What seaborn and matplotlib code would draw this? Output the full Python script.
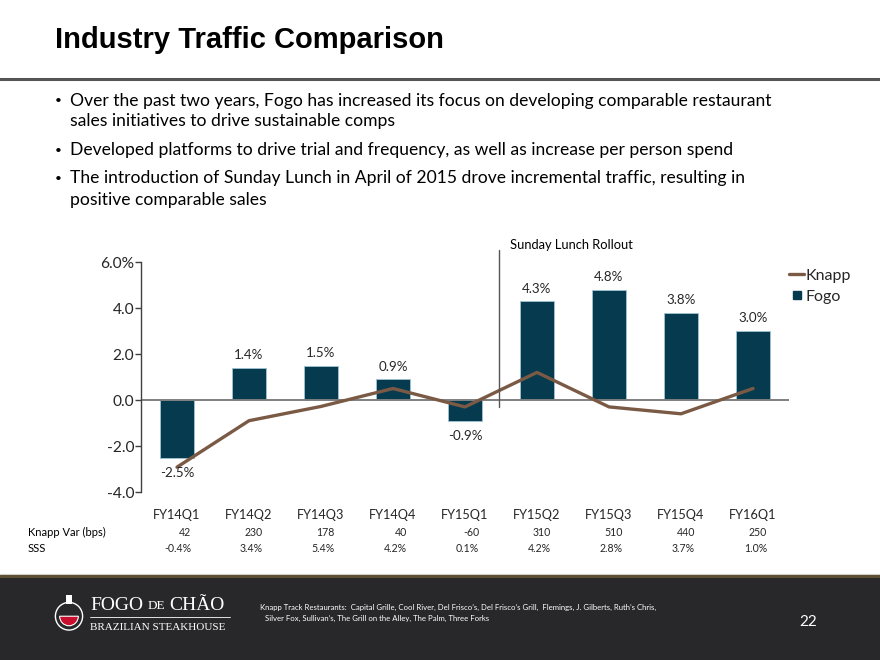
import matplotlib
matplotlib.use("Agg")
import matplotlib.pyplot as plt
from matplotlib.lines import Line2D
from matplotlib.patches import Rectangle, Circle, Wedge
import numpy as np
import pandas as pd
import seaborn as sns

# data
quarters = ["FY14Q1", "FY14Q2", "FY14Q3", "FY14Q4", "FY15Q1",
            "FY15Q2", "FY15Q3", "FY15Q4", "FY16Q1"]
fogo = [-2.5, 1.4, 1.5, 0.9, -0.9, 4.3, 4.8, 3.8, 3.0]
knapp = [-2.92, -0.9, -0.28, 0.5, -0.3, 1.2, -0.3, -0.6, 0.5]
knapp_var_bps = ["42", "230", "178", "40", "-60", "310", "510", "440", "250"]
sss = ["-0.4%", "3.4%", "5.4%", "4.2%", "0.1%", "4.2%", "2.8%", "3.7%", "1.0%"]
y_ticks = [-4.0, -2.0, 0.0, 2.0, 4.0, 6.0]
y_tick_labels = ["-4.0", "-2.0", "0.0", "2.0", "4.0", "6.0%"]

bullets = [
    ["Over the past two years, Fogo has increased its focus on developing comparable restaurant",
     "sales initiatives to drive sustainable comps"],
    ["Developed platforms to drive trial and frequency, as well as increase per person spend"],
    ["The introduction of Sunday Lunch in April of 2015 drove incremental traffic, resulting in",
     "positive comparable sales"],
]

BAR = "#063a4f"
LINE = "#7a5a44"
TXT = "#262626"
BODY = ["Lato", "DejaVu Sans"]

sns.set_theme(style="white")
plt.rcParams["font.family"] = BODY

df = pd.DataFrame({"quarter": quarters, "fogo": fogo, "knapp": knapp})
df["pos"] = np.arange(len(df))

fig = plt.figure(figsize=(8.8, 6.6), dpi=100)
W, H = 880, 660


def fx(px):
    return px / W


def fy(py):
    return 1 - py / H


# title + header rule
fig.text(fx(55), fy(40), "Industry Traffic Comparison", fontsize=21, fontweight="bold",
         family=["Liberation Sans", "DejaVu Sans"], color="black", va="center")
fig.add_artist(Line2D([0, 1], [fy(79), fy(79)], color="#555555", lw=2.2))

# bullets
line_y = [[101, 121], [150], [178, 200]]
for lines, ys in zip(bullets, line_y):
    fig.text(fx(55), fy(ys[0]), "\u2022", fontsize=8.5, color="black", va="center")
    for t, yy in zip(lines, ys):
        fig.text(fx(70), fy(yy), t, fontsize=12.6, color="black", va="center")

# chart
ax = fig.add_axes([fx(141), fy(492), fx(789) - fx(141), fy(262) - fy(492)])
sns.barplot(data=df, x="quarter", y="fogo", color=BAR, width=0.47,
            edgecolor="#9fc3d3", linewidth=0.6, saturation=1, ax=ax)
sns.lineplot(data=df, x="pos", y="knapp", color=LINE, lw=2.4, ax=ax)
ax.axhline(0, color="#7f7f7f", lw=1.4, zorder=1)
ax.set_xlim(-0.5, len(quarters) - 0.5)
ax.set_ylim(-4, 6)
ax.set_yticks(y_ticks)
ax.set_yticklabels(y_tick_labels)
ax.set_xlabel("")
ax.set_ylabel("")
for s in ["top", "right", "bottom"]:
    ax.spines[s].set_visible(False)
ax.spines["left"].set_color("#404040")
ax.spines["left"].set_linewidth(1)
ax.tick_params(axis="y", left=True, length=4, width=1, color="#404040",
               labelsize=11.2, labelcolor=TXT, pad=1)
ax.tick_params(axis="x", bottom=False, labelsize=9.2, labelcolor=TXT, pad=6)

for i, v in enumerate(fogo):
    off = 9 if v >= 0 else -11
    ax.annotate(f"{v:.1f}%", (i, v), xytext=(0, off), textcoords="offset points",
                ha="center", va="center", fontsize=9.6, color=TXT)

# Sunday lunch marker
ax.plot([4.47, 4.47], [-0.3, 6.5], color="#555555", lw=1, clip_on=False)
ax.text(4.62, 6.75, "Sunday Lunch Rollout", fontsize=9.3, color="black",
        va="center", ha="left", clip_on=False)

handles = [Line2D([0], [0], color=LINE, lw=2.4),
           Line2D([0], [0], color=BAR, marker="s", ls="", markersize=6)]
fig.legend(handles, ["Knapp", "Fogo"], loc="upper left",
           bbox_to_anchor=(fx(783), fy(262)), frameon=False, fontsize=11.5,
           handlelength=0.9, handletextpad=0.1, labelspacing=0.45, borderaxespad=0)

# table below chart
fig.text(fx(28), fy(532), "Knapp Var (bps)", fontsize=8, color="black", va="center")
fig.text(fx(28), fy(549), "SSS", fontsize=8, color="black", va="center")
for i in range(len(quarters)):
    xr = fx(141 + 72 * (i + 0.5) + 14)
    fig.text(xr, fy(532), knapp_var_bps[i], fontsize=7.6, ha="right", va="center")
    fig.text(xr, fy(549), sss[i], fontsize=7.6, ha="right", va="center")

# footer band
fig.add_artist(Rectangle((0, 0), 1, fy(576), transform=fig.transFigure,
                         facecolor="#28282b", edgecolor="none", zorder=0))
fig.add_artist(Line2D([0, 1], [fy(573.5), fy(573.5)], color="#cfd4d0", lw=0.8))
fig.add_artist(Line2D([0, 1], [fy(576), fy(576)], color="#5f4f33", lw=2.2))

# logo
ax_logo = fig.add_axes([fx(52), fy(637), fx(34), fy(592) - fy(637)])
ax_logo.set_xlim(-1, 1)
ax_logo.set_ylim(-1.3, 1.3)
ax_logo.axis("off")
ax_logo.add_patch(Circle((0, -0.1), 0.8, facecolor="none", edgecolor="white", lw=1))
ax_logo.add_patch(Wedge((0, -0.1), 0.55, 180, 360, facecolor="#c8102e", edgecolor="white", lw=0.8))
ax_logo.add_patch(Rectangle((-0.15, 0.6), 0.3, 0.5, facecolor="white", edgecolor="none"))
serif = ["Liberation Serif", "DejaVu Serif"]
fig.text(fx(90), fy(605), "FOGO", fontsize=14, family=serif, color="white", va="center")
fig.text(fx(148), fy(606), "DE", fontsize=9.5, family=serif, color="white", va="center")
fig.text(fx(169), fy(605), "CH\u00c3O", fontsize=14, family=serif, color="white", va="center")
fig.add_artist(Line2D([fx(90), fx(230)], [fy(617), fy(617)], color="white", lw=0.6))
fig.text(fx(90), fy(628), "BRAZILIAN STEAKHOUSE", fontsize=8, family=serif,
         color="white", va="center")

fig.text(fx(260), fy(607),
         "Knapp Track Restaurants:  Capital Grille, Cool River, Del Frisco\u2019s, Del Frisco\u2019s Grill,  "
         "Flemings, J. Gilberts, Ruth\u2019s Chris,", fontsize=5.6, color="white", va="center")
fig.text(fx(265), fy(618), "Silver Fox, Sullivan\u2019s, The Grill on the Alley, The Palm, Three Forks",
         fontsize=5.6, color="white", va="center")
fig.text(fx(799), fy(622), "22", fontsize=11, color="white", va="center")

fig.savefig("out.png", dpi=100)
